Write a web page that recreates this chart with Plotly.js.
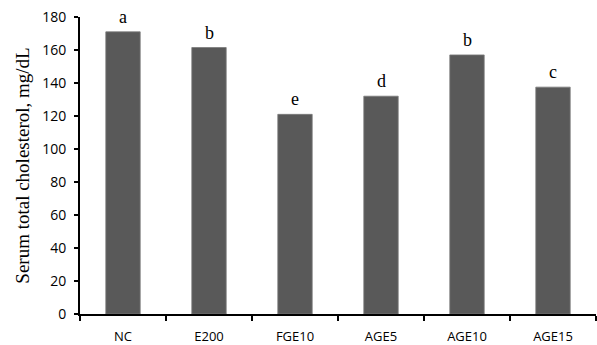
<!DOCTYPE html>
<html>
<head>
<meta charset="utf-8">
<script src="https://cdn.plot.ly/plotly-3.0.1.min.js"></script>
<style>html,body{margin:0;padding:0;background:#fff;}#chart{width:597px;height:345px;}</style>
</head>
<body>
<div id="chart"></div>
<script>
const categories = ["NC", "E200", "FGE10", "AGE5", "AGE10", "AGE15"];
const cholesterol = [171, 161.5, 121, 132, 157, 137.5];
const letters = ["a", "b", "e", "d", "b", "c"];
const yTicks = [0, 20, 40, 60, 80, 100, 120, 140, 160, 180];

const trace = {
  type: "bar",
  x: categories,
  y: cholesterol,
  width: 0.4,
  marker: {color: "#595959", line: {color: "#7a7a7a", width: 0.8}},
  hoverinfo: "skip"
};

const annotations = categories.map((c, i) => ({
  x: c, y: cholesterol[i], text: letters[i],
  showarrow: false, xanchor: "center", yanchor: "bottom", yshift: 3,
  font: {family: "Liberation Serif", size: 18, color: "#000"}
}));

const layout = {
  width: 597, height: 345,
  margin: {l: 80, r: 1, t: 17, b: 31, pad: 0},
  paper_bgcolor: "#fff", plot_bgcolor: "#fff",
  showlegend: false,
  bargap: 0.6,
  xaxis: {
    type: "category",
    showline: true, linecolor: "#000", linewidth: 2,
    ticks: "outside", tickson: "boundaries", ticklen: 5, tickwidth: 2, tickcolor: "#000",
    showgrid: false, zeroline: false,
    tickfont: {family: "Open Sans", size: 13, color: "#000"},
    ticklabelstandoff: 9,
    automargin: false
  },
  yaxis: {
    range: [0, 180], tickvals: yTicks, ticktext: yTicks.map(String),
    showline: true, linecolor: "#000", linewidth: 2,
    ticks: "outside", ticklen: 4, tickwidth: 2, tickcolor: "#000",
    showgrid: false, zeroline: false,
    tickfont: {family: "Open Sans", size: 14, color: "#000"},
    ticklabelstandoff: 5,
    title: {text: "Serum total cholesterol, mg/dL", font: {family: "Liberation Serif", size: 19, color: "#000"}, standoff: 8},
    automargin: false
  },
  annotations: annotations
};

Plotly.newPlot("chart", [trace], layout, {staticPlot: true, displayModeBar: false});
</script>
</body>
</html>
